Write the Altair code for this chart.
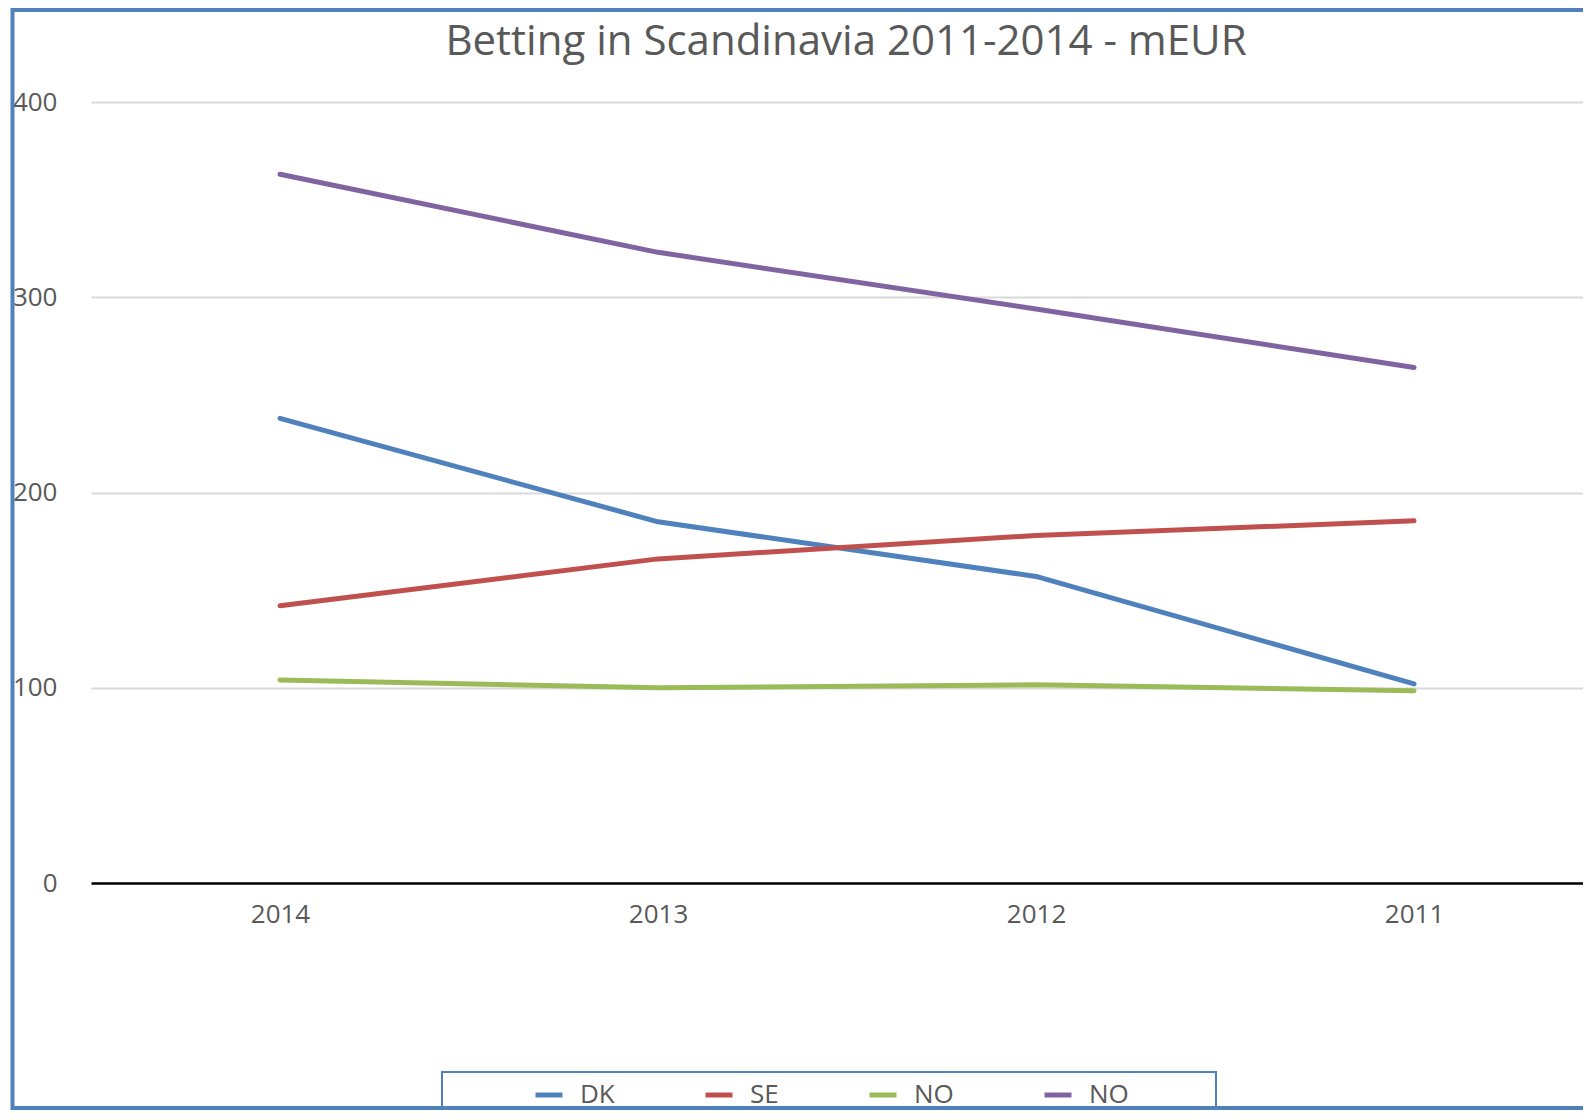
import altair as alt
import pandas as pd

years = [2014, 2013, 2012, 2011]
series_keys = ["DK", "SE", "NO_1", "NO_2"]
series_colors = ["#4F81BD", "#C0504D", "#9BBB59", "#8064A2"]
dk = [238, 185, 157, 102]
se = [142, 166, 178, 185.5]
no_green = [104, 100, 101.5, 98.5]
no_purple = [363, 323, 294, 264]
y_ticks = [0, 100, 200, 300, 400]
title_text = "Betting in Scandinavia 2011-2014 - mEUR"

values = [dk, se, no_green, no_purple]
rows = []
for key, vals in zip(series_keys, values):
    for yr, v in zip(years, vals):
        rows.append({"year": yr, "series": key, "value": v})
df = pd.DataFrame(rows)

FONT = "Open Sans"
GREY = "#595959"
W, H = 1492, 781

lines = alt.Chart(df).mark_line(strokeWidth=5, strokeCap="round", strokeJoin="round").encode(
    x=alt.X("year:Q",
            scale=alt.Scale(domain=[2010.553, 2014.5], reverse=True, nice=False, zero=False),
            axis=alt.Axis(title=None, values=years, format="d", labelAngle=0, ticks=False,
                          grid=False, domain=True, domainColor="#000000", domainWidth=2.5,
                          labelFont=FONT, labelFontSize=26, labelColor=GREY,
                          labelPadding=18)),
    y=alt.Y("value:Q", scale=alt.Scale(domain=[0, 400], nice=False),
            axis=alt.Axis(title=None, values=y_ticks, ticks=False, domain=False,
                          grid=True, gridColor="#D9D9D9", gridWidth=2,
                          labelFont=FONT, labelFontSize=26, labelColor=GREY,
                          labelPadding=34)),
    color=alt.Color("series:N",
                    scale=alt.Scale(domain=series_keys, range=series_colors),
                    legend=alt.Legend(orient="none", legendX=442, legendY=977,
                                      direction="horizontal", columns=4, title=None,
                                      symbolType="stroke", symbolSize=729,
                                      symbolStrokeWidth=5,
                                      labelFont=FONT, labelFontSize=26, labelColor=GREY,
                                      labelOffset=15, columnPadding=80,
                                      labelExpr="split(datum.label, '_')[0]")),
)

one = pd.DataFrame({"k": [0]})
title = alt.Chart(one).mark_text(
    text=title_text, font=FONT, fontSize=42, color=GREY,
    align="center", baseline="alphabetic"
).encode(x=alt.value(755), y=alt.value(-47))

outer = alt.Chart(one).mark_rect(filled=False, stroke="#4F81BD", strokeWidth=4).encode(
    x=alt.value(-78.5), x2=alt.value(W + 30), y=alt.value(-92), y2=alt.value(1006)
)
legend_box = alt.Chart(one).mark_rect(filled=False, stroke="#4F81BD", strokeWidth=2).encode(
    x=alt.value(351), x2=alt.value(1125), y=alt.value(970), y2=alt.value(1006)
)

chart = alt.layer(lines, title, legend_box, outer).properties(
    width=W, height=H,
    padding={"left": 83, "top": 94, "right": 0, "bottom": 229},
    autosize=alt.AutoSizeParams(type="none"),
    view=alt.ViewBackground(stroke="transparent", strokeWidth=0),
).configure_view(
    stroke="transparent", strokeWidth=0, strokeOpacity=0
).configure_axis(domain=False).configure(background="white")

chart.save("out.html", embed_options={"renderer": "svg", "actions": False})
